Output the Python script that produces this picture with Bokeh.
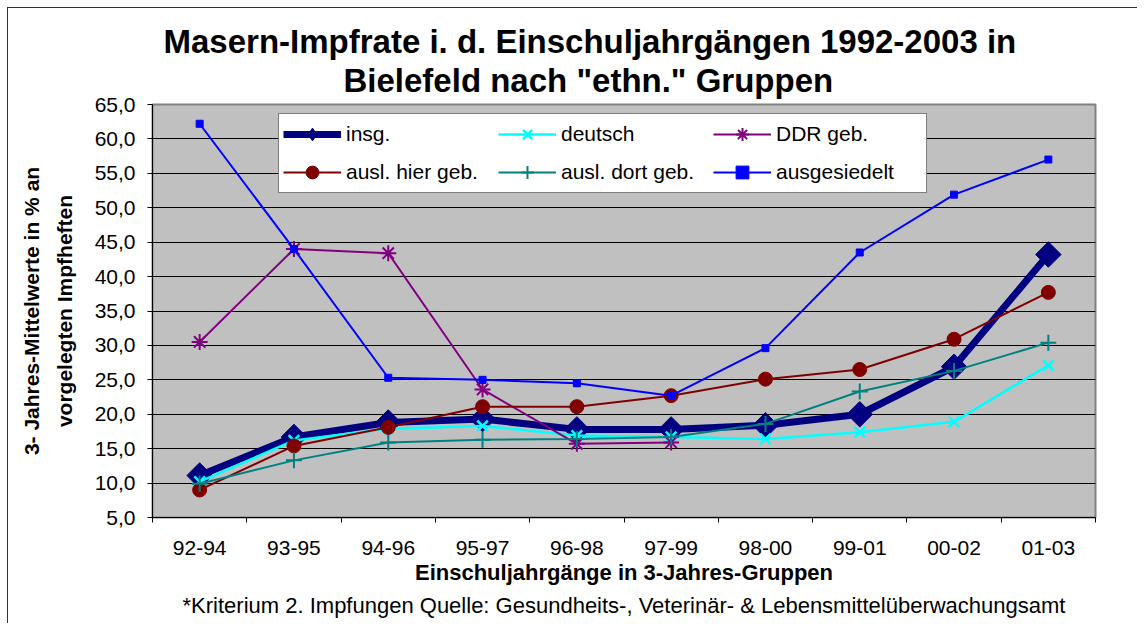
from math import pi
from bokeh.plotting import figure
from bokeh.models import (FactorRange, Range1d, LinearAxis, CategoricalAxis, FixedTicker,
                          Legend, LegendItem, Title)
from bokeh.embed import file_html
from bokeh.resources import INLINE

categories = ["92-94", "93-95", "94-96", "95-97", "96-98", "97-99", "98-00", "99-01", "00-02", "01-03"]
insg = [11.1, 16.7, 18.8, 19.3, 17.8, 17.8, 18.4, 20.0, 26.9, 43.2]
deutsch = [10.2, 16.2, 17.9, 18.3, 16.9, 16.7, 16.4, 17.4, 18.9, 27.1]
ddr_geb = [30.5, 44.0, 43.4, 23.6, 15.7, 15.9]
ausl_hier = [9.0, 15.4, 18.1, 21.1, 21.1, 22.7, 25.1, 26.5, 30.9, 37.7]
ausl_dort = [9.9, 13.3, 15.9, 16.3, 16.4, 16.7, 18.6, 23.3, 26.3, 30.4]
ausgesiedelt = [62.2, 44.0, 25.3, 25.0, 24.5, 22.7, 29.6, 43.5, 51.9, 57.0]

series_names = ["insg.", "deutsch", "DDR geb.", "ausl. hier geb.", "ausl. dort geb.", "ausgesiedelt"]
y_ticks = [5, 10, 15, 20, 25, 30, 35, 40, 45, 50, 55, 60, 65]
y_tick_labels = ["5,0", "10,0", "15,0", "20,0", "25,0", "30,0", "35,0", "40,0", "45,0", "50,0", "55,0", "60,0", "65,0"]

title_lines = ["Masern-Impfrate i. d. Einschuljahrgängen 1992-2003 in", "Bielefeld nach \"ethn.\" Gruppen"]
y_label_lines = ["3- Jahres-Mittelwerte in % an", "vorgelegten Impfheften"]
x_label = "Einschuljahrgänge in 3-Jahres-Gruppen"
footnote = "*Kriterium 2. Impfungen Quelle: Gesundheits-, Veterinär- & Lebensmittelüberwachungsamt"

FONT = "Liberation Sans"

p = figure(width=1130, height=616, x_range=FactorRange(*categories), y_range=Range1d(5, 65),
           x_axis_location=None, title_location=None, output_backend="svg", toolbar_location=None,
           min_border_left=144, min_border_right=43, min_border_top=96, min_border_bottom=106)
p.styles = {"margin-left": "8px", "margin-top": "8px", "box-shadow": "-1px -1px 0 0 #333333"}
p.background_fill_color = "#C0C0C0"
p.border_fill_color = "white"
p.outline_line_color = "#808080"
p.outline_line_width = 2

# titles (closest to the plot first)
t2 = Title(text=title_lines[1], align="left", offset=191, text_font=FONT, text_font_size="33px",
           text_font_style="bold", text_color="black", standoff=12, vertical_align="bottom")
t1 = Title(text=title_lines[0], align="left", offset=11, text_font=FONT, text_font_size="33px",
           text_font_style="bold", text_color="black", standoff=-12, vertical_align="bottom")
p.add_layout(t2, "above")
p.add_layout(t1, "above")

# y axis
ya = p.yaxis[0]
ya.ticker = FixedTicker(ticks=y_ticks)
ya.major_label_overrides = dict(zip(y_ticks, y_tick_labels))
ya.major_tick_out = 5
ya.major_tick_in = 0
ya.minor_tick_line_color = None
ya.axis_line_color = "black"
ya.major_tick_line_color = "black"
ya.major_label_standoff = 12
ya.major_label_text_font = FONT
ya.major_label_text_font_size = "21px"
ya.major_label_text_color = "black"
ya.axis_label = "\n".join(y_label_lines)
ya.axis_label_text_font = FONT
ya.axis_label_text_font_size = "21px"
ya.axis_label_text_font_style = "bold"
ya.axis_label_text_color = "black"
ya.axis_label_text_line_height = 1.4
ya.axis_label_standoff = 16
p.ygrid.grid_line_color = "black"
p.ygrid.grid_line_width = 1
p.xgrid.visible = False

# x axis: boundary ticks (between categories) + category labels
boundaries = list(range(len(categories) + 1))
tick_axis = LinearAxis(ticker=FixedTicker(ticks=boundaries),
                       major_label_overrides={i: "" for i in boundaries},
                       major_label_text_font_size="0px", major_label_standoff=0,
                       major_tick_out=5, major_tick_in=0, minor_tick_line_color=None,
                       axis_line_color="black", major_tick_line_color="black")
p.add_layout(tick_axis, "below")
cat_axis = CategoricalAxis(axis_line_color=None, major_tick_line_color=None, major_tick_out=0, major_tick_in=0,
                           major_label_standoff=18, major_label_text_font=FONT,
                           major_label_text_font_size="21px", major_label_text_color="black",
                           axis_label=x_label, axis_label_text_font=FONT, axis_label_text_font_size="22px",
                           axis_label_text_font_style="bold", axis_label_text_color="black",
                           axis_label_standoff=2)
p.add_layout(cat_axis, "below")
p.add_layout(Title(text=footnote, align="center", text_font=FONT, text_font_size="22px",
                   text_font_style="normal", text_color="black", standoff=10, vertical_align="top"), "below")

styles = [
    dict(values=insg, color="#000080", lw=7, marker="square", size=18, angle=pi / 4, mlw=1),
    dict(values=deutsch, color="#00FFFF", lw=2.5, marker="x", size=15, angle=0, mlw=2.5),
    dict(values=ddr_geb, color="#800080", lw=2, marker="asterisk", size=16, angle=0, mlw=2),
    dict(values=ausl_hier, color="#800000", lw=2, marker="circle", size=14, angle=0, mlw=1),
    dict(values=ausl_dort, color="#008080", lw=2, marker="cross", size=16, angle=0, mlw=2),
    dict(values=ausgesiedelt, color="#0000FF", lw=2, marker="square", size=7, angle=0, mlw=1),
]

items = []
for name, s in zip(series_names, styles):
    xs = categories[:len(s["values"])]
    ln = p.line(xs, s["values"], line_color=s["color"], line_width=s["lw"])
    sc = p.scatter(xs, s["values"], marker=s["marker"], size=s["size"], angle=s["angle"],
                   fill_color=s["color"], line_color=s["color"], line_width=s["mlw"])
    if s["angle"]:
        # legend-only proxy: rotated markers are not rotated inside the legend
        proxy = p.scatter([categories[0]], [float("nan")], marker="diamond", size=17,
                          fill_color=s["color"], line_color=s["color"], line_width=1)
        items.append(LegendItem(label=name, renderers=[ln, proxy]))
    else:
        items.append(LegendItem(label=name, renderers=[ln, sc]))

legend = Legend(items=items, location=(126, 324), orientation="horizontal", ncols=3,
                border_line_color="black", border_line_width=1, background_fill_color="white",
                background_fill_alpha=1, label_text_font=FONT, label_text_font_size="21px",
                label_text_color="black", glyph_width=58, glyph_height=32, label_standoff=5,
                label_width=146, spacing=6, padding=4, margin=0)
p.add_layout(legend)

open("out.html", "w").write(file_html(p, INLINE))
